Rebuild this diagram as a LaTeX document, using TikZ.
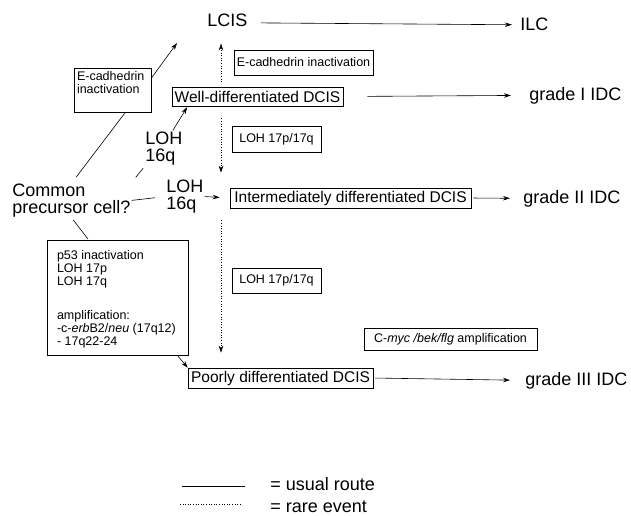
\documentclass[tikz,border=0pt]{standalone}
\usepackage{fontspec}
\setmainfont{Liberation Sans}
\usetikzlibrary{arrows.meta}
\newcommand{\lblfont}{\fontsize{18}{17}\selectfont}
\newcommand{\boxfont}{\fontsize{15.5}{17}\selectfont}
\newcommand{\notefont}{\fontsize{12.5}{13}\selectfont}
\begin{document}
\begin{tikzpicture}[x=1pt,y=-1pt,>={Stealth[length=7pt,width=4.5pt]},line width=0.6pt,
  lbl/.style={inner sep=0pt,font=\lblfont},
  dcis/.style={draw,inner sep=1pt,font=\boxfont},
  note/.style={draw,inner sep=2pt,font=\notefont},
  rare/.style={dotted}]
\useasboundingbox (0,0) rectangle (631,515);

% stages
\node[lbl,anchor=base west] (lcis) at (207,26) {LCIS};
\node[lbl,anchor=base west] (ilc) at (520,30) {ILC};
\node[dcis,minimum width=171pt,minimum height=19pt] (well) at (257.5,96.5) {Well-differentiated DCIS};
\node[dcis,minimum width=241pt,minimum height=20pt] (mid) at (350.5,198) {Intermediately differentiated DCIS};
\node[dcis,minimum width=185pt,minimum height=20pt] (poorly) at (280.5,378) {Poorly differentiated DCIS};
\node[lbl,anchor=base west] (gradeI) at (529,100) {grade I IDC};
\node[lbl,anchor=base west] (gradeII) at (523,203) {grade II IDC};
\node[lbl,anchor=base west] (gradeIII) at (525,385) {grade III IDC};

\node[lbl,anchor=west,align=left] (common) at (12,200.5) {Common\\precursor cell?};
\node[lbl,anchor=west,align=left] (lohA) at (145,149) {LOH\\16q};
\node[lbl,anchor=west,align=left] (lohB) at (166,196.5) {LOH\\16q};

% genetic changes
\node[note,minimum width=139pt,minimum height=25pt] (ecadR) at (303.5,62.5) {E-cadhedrin inactivation};
\node[note,inner sep=3pt] (ecadL) at (112.5,90) {\parbox[c][38pt][t]{71pt}{E-cadhedrin\\inactivation}};
\node[note,minimum width=89pt,minimum height=26pt] (lohC) at (276.5,139) {LOH 17p/17q};
\node[note,minimum width=89pt,minimum height=25pt] (lohD) at (276.5,280.5) {LOH 17p/17q};
\node[note,minimum width=173pt,minimum height=22pt] (cmyc) at (450.5,339) {C-\textit{myc /bek/flg} amplification};
\node[note,inner xsep=10pt,inner ysep=10pt] (p53) at (117.5,297.5)
  {\parbox[c][95pt][t]{121pt}{p53 inactivation\\LOH 17p\\LOH 17q\\[21pt]amplification:\\-c-\textit{erb}B2/\textit{neu} (17q12)\\- 17q22-24}};

\coordinate (spine) at (221,0);
\coordinate (toLCIS) at (177,43);

% usual routes
\draw[->,shorten <=13pt,shorten >=8pt] ([yshift=-3pt]lcis.east) -- ([yshift=-1pt]ilc.west);
\draw[->,shorten <=24pt,shorten >=18pt] (well.east) -- (gradeI.west);
\draw[->,shorten <=2pt,shorten >=13pt] (mid.east) -- (gradeII.west);
\draw[->,shorten <=2pt,shorten >=15pt] (poorly.east) -- (gradeIII.west);

\draw[shorten <=8pt] (common.north) -- (ecadL.-60);
\draw[->] (ecadL.17) -- (toLCIS);
\draw[shorten <=8pt,shorten >=3pt] (common.north east) -- (lohA.south west);
\draw[->,shorten <=2pt,shorten >=1pt] ([xshift=8pt]lohA.north) -- ([xshift=16pt]well.south west);
\draw[shorten <=1pt,shorten >=11pt] (common.east) -- (lohB.west);
\draw[->,shorten <=1pt,shorten >=10pt] (lohB.east) -- (mid.west);
\draw[shorten <=3pt,shorten >=1pt] (common.south) -- ([xshift=-29pt]p53.north);
\draw[->] ([xshift=-11pt]p53.south east) -- (poorly.north west);

% rare events
\draw[rare,->,shorten <=5pt,shorten >=17pt] (well.north -| spine) -- (lcis.south -| spine);
\draw[rare,->,shorten <=12pt,shorten >=15pt] (well.south -| spine) -- (mid.north -| spine);
\draw[rare,->,shorten <=12pt,shorten >=15pt] (mid.south -| spine) -- (poorly.north -| spine);

% legend
\node[lbl,anchor=base west] (usualTxt) at (270,490) {= usual route};
\node[lbl,anchor=base west] (rareTxt) at (270,512) {= rare event};
\coordinate (usualL) at (182,486);
\coordinate (usualR) at (245,486);
\coordinate (rareL) at (180,504);
\coordinate (rareR) at (242,504);
\draw (usualL) -- (usualR);
\draw[rare] (rareL) -- (rareR);
\end{tikzpicture}
\end{document}
